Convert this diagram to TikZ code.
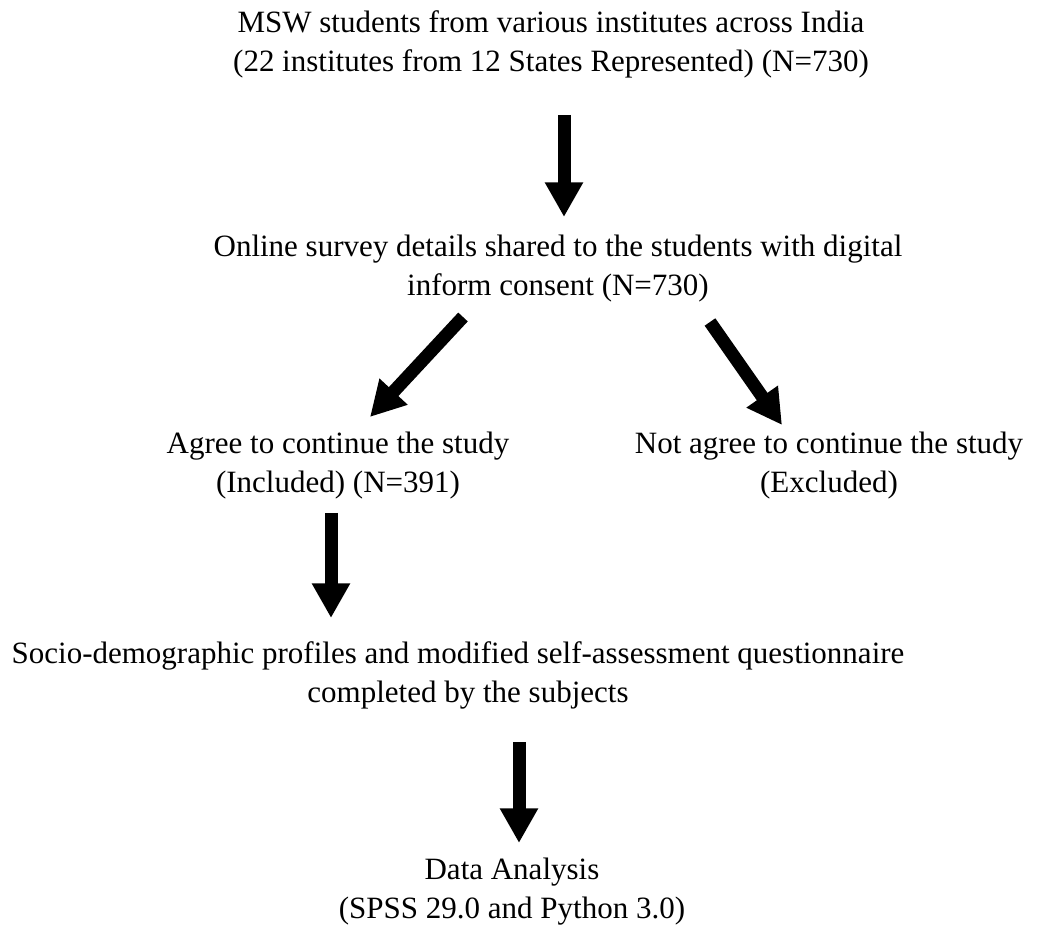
\documentclass[tikz,border=0pt]{standalone}
\usepackage{fontspec}
\setmainfont{Liberation Serif}
\usetikzlibrary{arrows.meta}
\begin{document}
\begin{tikzpicture}[x=0.75pt,y=-0.75pt,
  txt/.style={inner sep=0pt,align=center,anchor=base,font=\fontsize{23.25}{29.25}\selectfont},
  bigarrow/.style={line width=9.75pt,-{Triangle[width=27pt,length=26pt]}}]
\useasboundingbox (0,0) rectangle (1040,927);
% multi-line nodes: anchor=base sits on the baseline of the last line
\node[txt] (n1) at (551,72) {MSW students from various institutes across India\\(22 institutes from 12 States Represented) (N=730)};
\node[txt] (n2) at (558,296) {Online survey details shared to the students with digital\\inform consent (N=730)};
\node[txt] (n3) at (338,493) {Agree to continue the study\\(Included) (N=391)};
\node[txt] (n4) at (829,493) {Not agree to continue the study\\(Excluded)};
\node[txt] (n5a) at (458,663) {Socio-demographic profiles and modified self-assessment questionnaire};
\node[txt] (n5b) at (468,702) {completed by the subjects};
\node[txt] (n6) at (512,918) {Data Analysis\\(SPSS 29.0 and Python 3.0)};
\coordinate (a1s) at (564,115);
\coordinate (a1e) at (564,217);
\coordinate (a2s) at (463,317);
\coordinate (a2e) at (370,417);
\coordinate (a3s) at (710,322);
\coordinate (a3e) at (782,425);
\coordinate (a4s) at (331,513);
\coordinate (a4e) at (331,618);
\coordinate (a5s) at (519,742);
\coordinate (a5e) at (519,843);
\draw[bigarrow] (a1s) -- (a1e);
\draw[bigarrow] (a2s) -- (a2e);
\draw[bigarrow] (a3s) -- (a3e);
\draw[bigarrow] (a4s) -- (a4e);
\draw[bigarrow] (a5s) -- (a5e);
\end{tikzpicture}
\end{document}
